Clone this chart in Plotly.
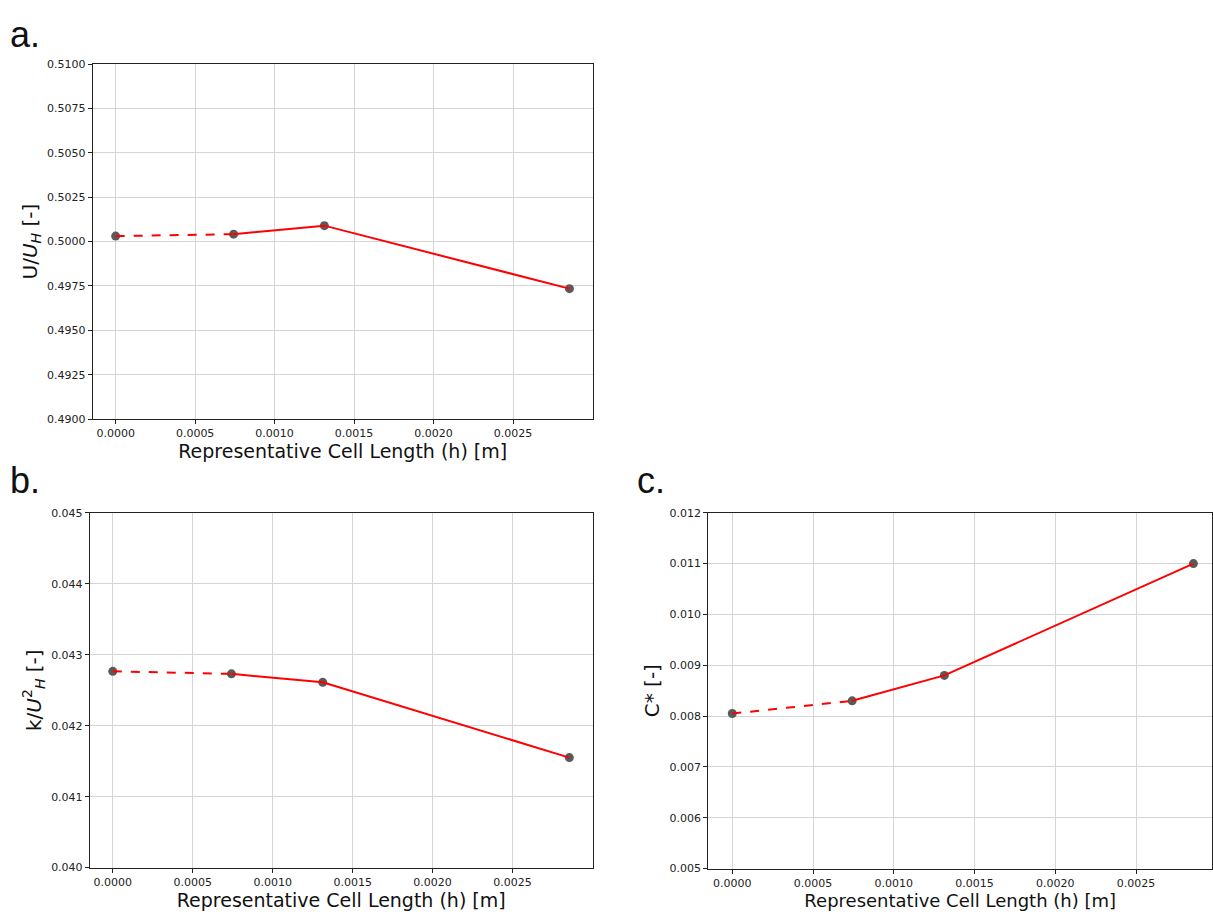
import plotly.graph_objects as go

# Data
h = [0.0, 0.000742, 0.001313, 0.002855]
u_norm = [0.50031, 0.50042, 0.50090, 0.49735]
k_norm = [0.042765, 0.04273, 0.04261, 0.04155]
c_star = [0.00805, 0.00830, 0.00880, 0.01100]
x_ticks = [0.0, 0.0005, 0.0010, 0.0015, 0.0020, 0.0025]

W, H = 1213, 918
RED = "#ff0000"
MK = "#5a5a5a"
GRID = "#d4d4d4"

fig = go.Figure()

def add_panel(fig, y, xa, ya):
    fig.add_trace(go.Scatter(x=h, y=y, mode="markers", xaxis=xa, yaxis=ya,
                             marker=dict(color=MK, size=9), showlegend=False))
    fig.add_trace(go.Scatter(x=h[:2], y=y[:2], mode="lines", xaxis=xa, yaxis=ya,
                             line=dict(color=RED, width=2, dash="dash"), showlegend=False))
    fig.add_trace(go.Scatter(x=h[1:], y=y[1:], mode="lines", xaxis=xa, yaxis=ya,
                             line=dict(color=RED, width=2), showlegend=False))

add_panel(fig, u_norm, "x", "y")
add_panel(fig, k_norm, "x2", "y2")
add_panel(fig, c_star, "x3", "y3")

tickfont = dict(family="DejaVu Sans", size=11, color="#222")

def xaxis(domain, anchor, rng, title_size):
    return dict(domain=domain, anchor=anchor, range=rng, tickvals=x_ticks,
                tickformat=".4f", showgrid=True, gridcolor=GRID, gridwidth=1,
                showline=True, linecolor="#222", linewidth=1.2, mirror=True,
                ticks="outside", ticklen=4, tickcolor="#222", tickfont=tickfont,
                zeroline=False,
                title=dict(text="Representative Cell Length (h) [m]",
                           font=dict(family="DejaVu Sans", size=title_size, color="#111"),
                           standoff=3))

def yaxis(domain, anchor, rng, dtick, fmt, title):
    return dict(domain=domain, anchor=anchor, range=rng, dtick=dtick, tick0=rng[0],
                tickformat=fmt, showgrid=True, gridcolor=GRID, gridwidth=1,
                showline=True, linecolor="#222", linewidth=1.2, mirror=True,
                ticks="outside", ticklen=4, tickcolor="#222", tickfont=tickfont,
                zeroline=False,
                title=dict(text=title, font=dict(family="DejaVu Sans", size=20, color="#111"),
                           standoff=4))

fig.update_layout(
    width=W, height=H,
    margin=dict(l=0, r=0, t=0, b=0),
    paper_bgcolor="white", plot_bgcolor="white",
    xaxis=xaxis([93/W, 593/W], "y", [-0.000143, 0.003], 19),
    yaxis=yaxis([1-419/H, 1-59/H], "x", [0.49, 0.51], 0.0025, ".4f",
                "U/<i>U</i><sub><i>H</i></sub> [-]"),
    xaxis2=xaxis([90/W, 593/W], "y2", [-0.000143, 0.003], 19),
    yaxis2=yaxis([1-874/H, 1-514/H], "x2", [0.040, 0.045], 0.001, ".3f",
                 "k/<i>U</i><sup>2</sup><sub><i>H</i></sub> [-]"),
    xaxis3=xaxis([709/W, 1.0], "y3", [-0.000148, 0.00297], 18),
    yaxis3=yaxis([1-875/H, 1-514/H], "x3", [0.005, 0.012], 0.001, ".3f",
                 "C* [-]"),
)

for txt, x, y in [("a.", 8/W, 1-6/H), ("b.", 8/W, 1-458/H), ("c.", 636/W, 1-458/H)]:
    fig.add_annotation(text=txt, x=x, y=y, xref="paper", yref="paper",
                       xanchor="left", yanchor="top", showarrow=False,
                       font=dict(family="Liberation Sans", size=36, color="#111"))

fig.write_html("out.html")
